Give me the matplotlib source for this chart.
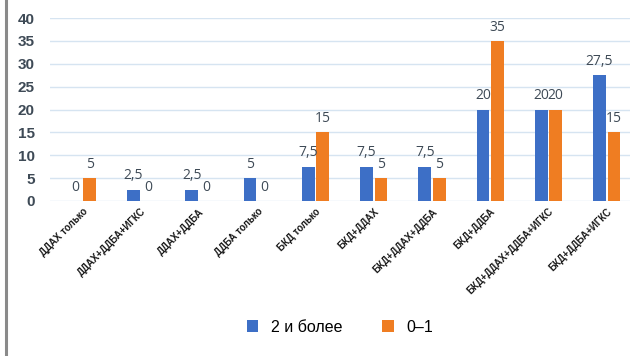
import matplotlib
matplotlib.use("Agg")
from matplotlib import pyplot as plt
from matplotlib.lines import Line2D
import numpy as np

categories = ["ДДАХ только", "ДДАХ+ДДБА+ИГКС", "ДДАХ+ДДБА", "ДДБА только",
              "БКД только", "БКД+ДДАХ", "БКД+ДДАХ+ДДБА", "БКД+ДДБА",
              "БКД+ДДАХ+ДДБА+ИГКС", "БКД+ДДБА+ИГКС"]
two_plus = [0, 2.5, 2.5, 5, 7.5, 7.5, 7.5, 20, 20, 27.5]
zero_one = [5, 0, 0, 0, 15, 5, 5, 35, 20, 15]
series_names = ["2 и более", "0–1"]
y_ticks = [0, 5, 10, 15, 20, 25, 30, 35, 40]

BLUE = "#3d6fc6"
ORANGE = "#ef7d22"
TXT = "#3e4a56"

plt.rcParams['font.family'] = ['Liberation Sans', 'DejaVu Sans']


def fmt(v):
    s = ("%g" % v).replace('.', ',')
    return s


fig = plt.figure(figsize=(6.35, 3.56), dpi=100)
ax = fig.add_axes([50 / 635, 155 / 356, 580 / 635, 183 / 356])

x = np.arange(len(categories))
w = 0.22
gap = 0.015
b1 = ax.bar(x - w / 2 - gap, two_plus, w, color=BLUE, label=series_names[0], zorder=3)
b2 = ax.bar(x + w / 2 + gap, zero_one, w, color=ORANGE, label=series_names[1], zorder=3)

for bars, vals in ((b1, two_plus), (b2, zero_one)):
    for r, v in zip(bars, vals):
        ax.annotate(fmt(v), (r.get_x() + r.get_width() / 2, v),
                    xytext=(0, 4.5), textcoords='offset points',
                    ha='center', va='bottom', fontsize=10, color=TXT,
                    family=['Open Sans', 'DejaVu Sans'])

ax.set_ylim(0, 40)
ax.set_xlim(-0.56, 9.4)
ax.set_yticks(y_ticks)
ax.set_yticklabels([str(t) for t in y_ticks], fontsize=11, fontweight='bold', color=TXT)
ax.tick_params(axis='y', length=0, pad=11)
ax.tick_params(axis='x', length=0, pad=4)
ax.set_xticks(x)
ax.set_xticklabels(categories, rotation=45, ha='right', rotation_mode='anchor',
                   fontsize=7, fontweight='bold', color='#1a1a1a')
ax.grid(axis='y', color='#d6e4f1', linewidth=1, zorder=0)
for s in ax.spines.values():
    s.set_visible(False)

fig.legend(handles=[b1, b2], labels=series_names, loc='center',
           bbox_to_anchor=(340 / 635, 1 - 327 / 356), ncol=2, frameon=False,
           fontsize=11.5, handlelength=0.7, handleheight=0.7, columnspacing=2.5,
           handletextpad=0.8)

# grey frame line on the left edge
fig.add_artist(Line2D([6 / 635, 6 / 635], [0, 1], color='#8a8a8a', linewidth=2.2,
                      transform=fig.transFigure))

fig.savefig("out.png", dpi=100)
